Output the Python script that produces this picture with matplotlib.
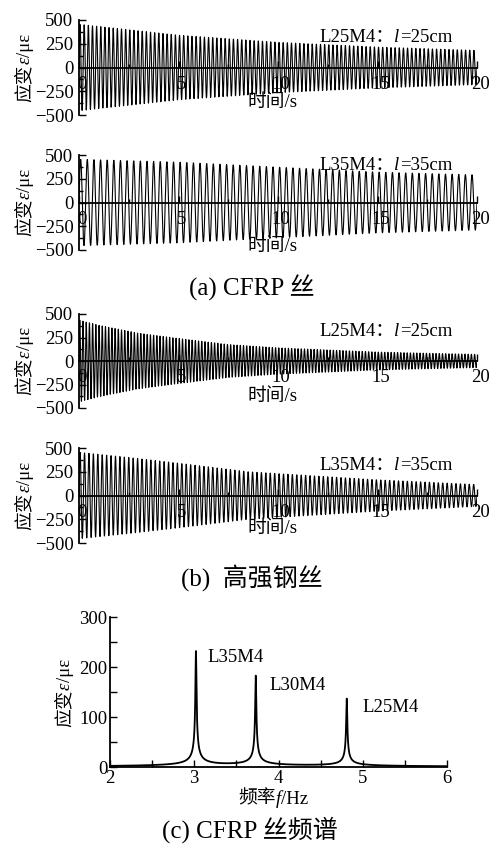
import numpy as np
import matplotlib
matplotlib.use('Agg')
import matplotlib.pyplot as plt
import matplotlib.transforms as mtransforms
from matplotlib.ticker import MultipleLocator

plt.rcParams['font.family'] = ['Liberation Serif', 'Noto Sans CJK SC']
plt.rcParams['axes.unicode_minus'] = True

# ---------------- data ----------------
# time-domain panels: dominant frequency (Hz) and amplitude envelope (t in s, με)
cfrp_l25_freq = 4.8
cfrp_l25_env_t = [0, 5, 10, 15, 20]
cfrp_l25_env_a = [455, 340, 265, 215, 180]

cfrp_l35_freq = 3.0
cfrp_l35_env_t = [0, 5, 10, 15, 20]
cfrp_l35_env_a = [455, 425, 372, 320, 290]

steel_l25_freq = 6.2
steel_l25_env_t = [0, 1, 3, 5, 7.5, 10, 15, 20]
steel_l25_env_a = [435, 380, 295, 240, 175, 140, 95, 70]

steel_l35_freq = 4.5
steel_l35_env_t = [0, 2.5, 5, 8.5, 15, 20]
steel_l35_env_a = [455, 400, 340, 250, 165, 115]

panel_names = ['L25M4', 'L35M4', 'L25M4', 'L35M4']
panel_lengths = ['25cm', '35cm', '25cm', '35cm']

# spectrum panel
spec_names = ['L35M4', 'L30M4', 'L25M4']
spec_peak_f = [3.02, 3.73, 4.81]
spec_peak_a = [230, 180, 135]
spec_halfwidth = [0.006, 0.006, 0.006]

x_ticks_time = [0, 5, 10, 15, 20]
y_ticks_time = [-500, -250, 0, 250, 500]
x_ticks_spec = [2, 3, 4, 5, 6]
y_ticks_spec = [0, 100, 200, 300]

captions = ['(a) CFRP 丝', '(b)  高强钢丝', '(c) CFRP 丝频谱']

# ---------------- figure ----------------
W, H = 499, 852
DPI = 100
fig = plt.figure(figsize=(W / DPI, H / DPI), dpi=DPI)
renderer = fig.canvas.get_renderer()

FS = 13.5


def rect(left, right, top, bottom):
    return [left / W, 1 - bottom / H, (right - left) / W, (bottom - top) / H]


def rich(xc, yc, parts, fontsize=FS, rotation=0, align='center'):
    """Place a run of text pieces (string, style) at figure pixel position.
    (xc, yc) is the visual centre line position in pixels from top-left."""
    widths = []
    for s, st in parts:
        t = fig.text(0, 0, s, fontsize=fontsize, style=st)
        widths.append(t.get_window_extent(renderer).width)
        t.remove()
    total = sum(widths)
    start = {'center': -total / 2, 'right': -total, 'left': 0}[align]
    em = fontsize * DPI / 72
    base = fig.transFigure
    pos = start
    for (s, st), w in zip(parts, widths):
        if rotation == 0:
            x, y = xc + pos, yc + 0.36 * em
        else:
            x, y = xc + 0.36 * em, yc - pos
        fig.text(x / W, 1 - y / H, s, fontsize=fontsize, style=st,
                 rotation=rotation, rotation_mode='anchor',
                 ha='left', va='baseline', transform=base)
        pos += w


ylabel_parts = [('应变', 'normal'), ('ε', 'italic'), ('/με', 'normal')]


def xlab_frac(top, bottom, yc):
    return (bottom - yc) / (bottom - top)


def time_panel(px, freq, env_t, env_a, name, length, label_yc, xlab_yc):
    l, rr, tp, bt = px
    ax = fig.add_axes(rect(l, rr, tp, bt))
    t = np.linspace(0, 20, 4001)
    env = np.interp(t, env_t, env_a)
    y = env * np.sin(2 * np.pi * freq * t)
    ax.plot(t, y, color='black', lw=0.8)
    ax.set_xlim(0, 20)
    ax.set_ylim(-500, 500)
    ax.spines['top'].set_visible(False)
    ax.spines['right'].set_visible(False)
    ax.spines['bottom'].set_position(('data', 0))
    ax.spines['bottom'].set_linewidth(1.3)
    ax.spines['left'].set_linewidth(1.3)
    ax.set_xticks(x_ticks_time)
    ax.set_yticks(y_ticks_time)
    ax.xaxis.set_minor_locator(MultipleLocator(2.5))
    ax.yaxis.set_minor_locator(MultipleLocator(125))
    ax.tick_params(which='both', direction='in', width=1.0, labelsize=FS)
    ax.tick_params(which='major', length=5)
    ax.tick_params(which='minor', length=3)
    ax.tick_params(axis='x', pad=6)
    ax.tick_params(axis='y', pad=4)
    shift = mtransforms.ScaledTranslation(3 / DPI, 0, fig.dpi_scale_trans)
    for lab in ax.get_xticklabels():
        lab.set_transform(lab.get_transform() + shift)
    ax.set_xlabel('时间/s', fontsize=FS)
    ax.xaxis.set_label_coords(0.485, xlab_frac(tp, bt, xlab_yc))
    ax.xaxis.label.set_va('center')
    rich(23, (tp + bt) / 2, ylabel_parts, rotation=90)
    rich(452, label_yc, [(name + '：', 'normal'), ('l', 'italic'), ('=' + length, 'normal')],
         align='right')
    return ax


rects = [(79, 477, 20, 115), (79, 477, 155, 250), (79, 477, 314, 408), (79, 477, 448, 543)]
freqs = [cfrp_l25_freq, cfrp_l35_freq, steel_l25_freq, steel_l35_freq]
env_ts = [cfrp_l25_env_t, cfrp_l35_env_t, steel_l25_env_t, steel_l35_env_t]
env_as = [cfrp_l25_env_a, cfrp_l35_env_a, steel_l25_env_a, steel_l35_env_a]
label_ycs = [35, 163, 329, 463]
xlab_ycs = [103, 247, 397, 529]

for i in range(4):
    time_panel(rects[i], freqs[i], env_ts[i], env_as[i],
               panel_names[i], panel_lengths[i], label_ycs[i], xlab_ycs[i])

# spectrum
ax = fig.add_axes(rect(110, 447, 617, 767))
f = np.linspace(2, 6, 8001)
spec = np.zeros_like(f)
for f0, a, g in zip(spec_peak_f, spec_peak_a, spec_halfwidth):
    spec += a * g / np.sqrt(g ** 2 + (f - f0) ** 2)
ax.plot(f, spec, color='black', lw=1.3)
ax.set_xlim(2, 6)
ax.set_ylim(0, 300)
ax.spines['top'].set_visible(False)
ax.spines['right'].set_visible(False)
ax.spines['bottom'].set_linewidth(1.3)
ax.spines['left'].set_linewidth(1.3)
ax.set_xticks(x_ticks_spec)
ax.set_yticks(y_ticks_spec)
ax.xaxis.set_minor_locator(MultipleLocator(0.5))
ax.yaxis.set_minor_locator(MultipleLocator(50))
ax.tick_params(which='both', direction='in', width=1.0, labelsize=FS)
ax.tick_params(which='major', length=5)
ax.tick_params(which='minor', length=5)
ax.tick_params(axis='x', pad=2)
ax.tick_params(axis='y', pad=2)
rich(63, 693, ylabel_parts, rotation=90)
rich(273, 797, [('频率', 'normal'), ('f', 'italic'), ('/Hz', 'normal')])
spec_label_xy = [(3.16, 220), (3.89, 164), (5.0, 118)]
for name, (lx, ly) in zip(spec_names, spec_label_xy):
    ax.text(lx, ly, name, ha='left', va='center', fontsize=FS)

# captions
cap_pos = [(252, 288), (252, 578), (250, 830)]
for cap, (cx, cy) in zip(captions, cap_pos):
    fig.text(cx / W, 1 - cy / H, cap, ha='center', va='center', fontsize=18)

fig.savefig('out.png', dpi=DPI)
